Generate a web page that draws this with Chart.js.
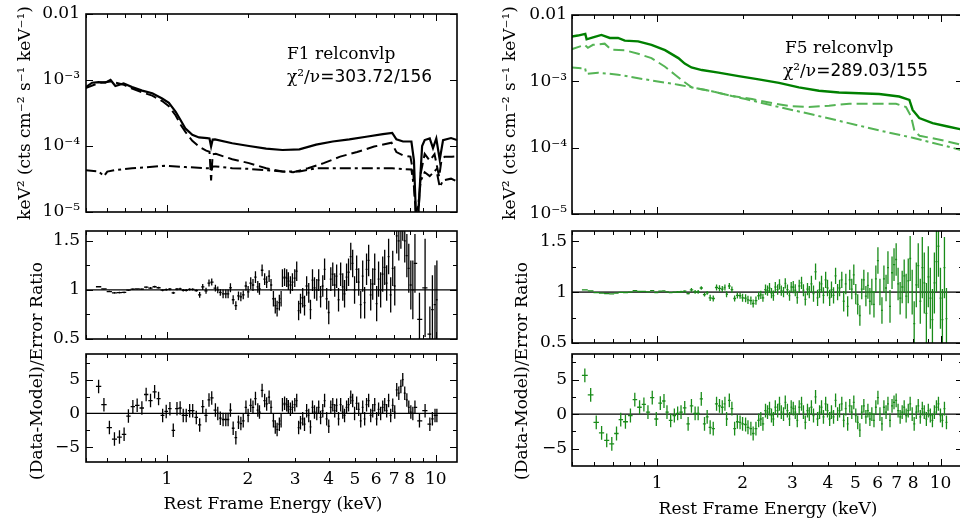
<!DOCTYPE html>
<html lang="en">
<head>
<meta charset="UTF-8">
<title>F1 / F5 relconvlp spectra</title>
<script src="https://cdn.jsdelivr.net/npm/chart.js"></script>
<style>
  body { margin: 0; background: #fff; }
  #fig { position: relative; width: 960px; height: 522px; overflow: hidden; background: #fff;
         font-family: "DejaVu Serif", serif; color: #000; }
  .panel { position: absolute; }
  .txt { position: absolute; white-space: nowrap; font-size: 17px; line-height: 1; }
  .rot { transform: translate(-50%, -50%) rotate(-90deg); }
  .ctr { transform: translate(-50%, -50%); }
  .lft { transform: translate(0, -50%); }
  .sans { font-family: "DejaVu Sans", sans-serif; }
</style>
</head>
<body>
<div id="fig">
  <div class="panel" style="left:0px;top:346px"><canvas id="f1Resid" width="470" height="176"></canvas></div>
  <div class="panel" style="left:0px;top:0px"><canvas id="f1Model" width="470" height="222"></canvas></div>
  <div class="panel" style="left:0px;top:222px"><canvas id="f1Ratio" width="470" height="134"></canvas></div>
  <div class="panel" style="left:480px;top:346px"><canvas id="f5Resid" width="495" height="176"></canvas></div>
  <div class="panel" style="left:480px;top:0px"><canvas id="f5Model" width="495" height="224"></canvas></div>
  <div class="panel" style="left:480px;top:224px"><canvas id="f5Ratio" width="495" height="132"></canvas></div>

  <div class="txt rot" style="left:24px;top:113px">keV² (cts cm⁻² s⁻¹ keV⁻¹)</div>
  <div class="txt rot" style="left:36px;top:371px">(Data-Model)/Error Ratio</div>
  <div class="txt ctr" style="left:273px;top:503px">Rest Frame Energy (keV)</div>
  <div class="txt lft" style="left:287px;top:53px">F1 relconvlp</div>
  <div class="txt lft" style="left:287px;top:76px">χ²/ν<span class="sans">=303.72/156</span></div>

  <div class="txt rot" style="left:509px;top:113px">keV² (cts cm⁻² s⁻¹ keV⁻¹)</div>
  <div class="txt rot" style="left:521px;top:371px">(Data-Model)/Error Ratio</div>
  <div class="txt ctr" style="left:768px;top:508px">Rest Frame Energy (keV)</div>
  <div class="txt lft" style="left:785px;top:47px">F5 relconvlp</div>
  <div class="txt lft" style="left:783px;top:70px">χ²/ν<span class="sans">=289.03/155</span></div>
</div>

<script>
// ---- axis ticks ----
const xTickVals = [1, 2, 3, 4, 5, 6, 7, 8, 10];
const xTickLabels = ['1', '2', '3', '4', '5', '6', '7', '8', '10'];
const xMinorVals = [0.5, 0.6, 0.7, 0.8, 0.9, 2, 3, 4, 5, 6, 7, 8, 9];
const xMajorVals = [1, 10];
const modelTicks = [1e-5, 1e-4, 1e-3, 0.01];
const modelTickLabels = ['10⁻⁵', '10⁻⁴', '10⁻³', '0.01'];
const ratioTicks = [0.5, 1, 1.5];
const ratioTickLabels = ['0.5', '1', '1.5'];
const residTicks = [-5, 0, 5];
const residTickLabels = ['\u22125', '0', '5'];

// ---- F1 model components ----
const f1TotalE = [0.497,0.527,0.557,0.59,0.617,0.643,0.69,0.742,0.809,0.882,0.96,1.017,1.078,1.125,1.17,1.243,1.316,1.41,1.44,1.46,1.48,1.51,1.75,2.02,2.34,2.69,3.11,3.59,4.14,4.77,5.51,6.36,6.89,7.14,7.56,8.12,8.3,8.45,8.6,8.75,8.9,9.1,9.5,9.77,10.05,10.35,10.65,11.4,12.0];
const f1Total = [7.7e-4,9.1e-4,9.3e-4,9.1e-4,1.0e-3,8.1e-4,8.9e-4,7.8e-4,6.9e-4,6.3e-4,5.25e-4,4.5e-4,3.3e-4,2.45e-4,1.86e-4,1.48e-4,1.35e-4,1.32e-4,1.3e-4,9.8e-5,1.25e-4,1.26e-4,1.1e-4,1.0e-4,9.1e-5,8.7e-5,8.9e-5,1.05e-4,1.17e-4,1.26e-4,1.38e-4,1.51e-4,1.58e-4,1.26e-4,1.17e-4,1.17e-4,6e-5,8e-6,8e-6,3e-5,1.0e-4,1.23e-4,1.3e-4,9.3e-5,1.3e-4,6.2e-5,1.23e-4,1.32e-4,1.23e-4];
const f1ReflE = [0.497,0.557,0.617,0.69,0.742,0.809,0.882,0.96,1.017,1.078,1.125,1.17,1.243,1.316,1.40,1.44,1.46,1.48,1.52,1.75,2.02,2.34,2.69,2.95,3.35,3.83,4.41,5.1,5.9,6.85,7.14,7.56,8.05,8.25,8.45,8.6,8.8,9.1,9.5,9.9,10.3,10.5,10.8,11.5,12.0];
const f1Refl = [7.5e-4,9.0e-4,9.5e-4,8.5e-4,7.4e-4,6.5e-4,5.8e-4,4.8e-4,4.0e-4,2.9e-4,2.1e-4,1.65e-4,1.2e-4,9.8e-5,8.5e-5,8.2e-5,3.0e-5,7.5e-5,7.6e-5,6.3e-5,5.5e-5,4.6e-5,4.1e-5,4.0e-5,4.6e-5,5.5e-5,6.9e-5,8.1e-5,9.8e-5,1.12e-4,8.1e-5,7.2e-5,6.9e-5,4.0e-5,8e-6,8e-6,3.9e-5,7.6e-5,6.0e-5,7.5e-5,3.4e-5,6.0e-5,6.9e-5,6.9e-5,7.0e-5];
const f1PowE = [0.497,0.557,0.583,0.6,0.64,0.742,0.98,1.17,1.40,1.44,1.46,1.48,1.52,1.75,2.02,2.34,2.69,3.11,3.59,4.14,5.51,6.89,8.12,8.3,8.45,8.6,8.8,9.1,9.5,10.05,10.35,10.65,11.4,12.0];
const f1Pow = [4.3e-5,4.1e-5,3.5e-5,4.1e-5,4.3e-5,4.6e-5,5.0e-5,4.8e-5,4.6e-5,4.6e-5,4.2e-5,4.9e-5,4.9e-5,4.6e-5,4.5e-5,4.3e-5,4.1e-5,4.1e-5,4.6e-5,4.6e-5,4.6e-5,4.6e-5,4.4e-5,2.4e-5,1.0e-5,1.2e-5,3.0e-5,4.0e-5,3.5e-5,4.4e-5,2.4e-5,3.0e-5,3.2e-5,2.9e-5];

// ---- F1 data: energy, ratio, ratio error, (data-model)/error ----
const f1E = [0.557,0.583,0.611,0.638,0.666,0.693,0.719,0.747,0.775,0.807,0.837,0.869,0.900,0.931,0.964,0.994,1.026,1.056,1.09,1.12,1.15,1.18,1.215,1.247,1.286,1.324,1.359,1.398,1.434,1.468,1.515,1.546,1.58,1.618,1.656,1.689,1.723,1.764,1.805,1.846,1.884,1.923,1.968,2.005,2.05,2.09,2.135,2.178,2.21,2.26,2.31,2.35,2.40,2.44,2.49,2.53,2.57,2.62,2.66,2.69,2.74,2.79,2.83,2.88,2.93,2.99,3.04,3.09,3.14,3.2,3.25,3.31,3.37,3.42,3.48,3.54,3.61,3.67,3.73,3.80,3.86,3.93,4.0,4.07,4.14,4.21,4.28,4.35,4.43,4.51,4.58,4.66,4.74,4.83,4.91,4.99,5.08,5.17,5.26,5.35,5.44,5.53,5.63,5.73,5.83,5.93,6.03,6.13,6.24,6.35,6.46,6.57,6.68,6.8,6.92,7.04,7.16,7.29,7.42,7.54,7.67,7.81,7.94,8.08,8.22,8.37,8.70,9.13,9.51,9.72,9.94,10.1];
const f1Ratio = [1.032,1.010,0.983,0.970,0.972,0.975,0.997,1.008,1.010,1.008,1.028,1.019,1.032,1.022,0.997,1.003,1.008,0.970,1.008,1.010,0.996,0.996,1.005,1.005,0.993,0.949,1.03,0.991,1.07,1.08,1.018,1.0,0.975,0.96,0.96,0.96,1.022,0.90,0.84,0.94,0.93,0.95,1.04,0.98,1.07,1.05,1.13,1.03,1.01,1.20,1.11,1.08,1.14,1.05,0.91,0.84,0.81,0.87,0.91,1.12,1.13,1.12,1.09,1.05,1.08,1.12,1.19,0.79,0.86,0.92,0.84,1.04,0.97,0.80,1.10,1.02,1.0,1.10,0.93,1.04,1.21,0.91,0.77,1.11,1.16,1.05,1.14,0.90,1.16,1.03,0.96,1.13,1.18,1.34,1.27,1.0,1.21,1.08,0.85,1.14,0.87,1.21,1.30,0.95,1.06,1.21,0.86,1.11,1.0,1.16,1.23,1.07,1.34,0.95,1.22,1.04,1.55,1.5,1.62,1.7,1.5,1.35,1.22,1.05,1.0,1.27,0.70,1.02,0.55,0.8,0.85,0.9];
const f1RatioErr = [0.008,0.008,0.008,0.008,0.008,0.008,0.008,0.008,0.008,0.01,0.01,0.01,0.01,0.01,0.01,0.012,0.012,0.012,0.012,0.012,0.012,0.012,0.012,0.012,0.012,0.03,0.03,0.03,0.035,0.035,0.035,0.035,0.035,0.045,0.045,0.045,0.045,0.045,0.045,0.045,0.045,0.045,0.045,0.06,0.06,0.06,0.06,0.06,0.06,0.06,0.06,0.06,0.06,0.06,0.08,0.08,0.08,0.08,0.08,0.09,0.09,0.09,0.09,0.09,0.09,0.09,0.1,0.1,0.1,0.1,0.1,0.1,0.1,0.1,0.11,0.11,0.11,0.11,0.11,0.11,0.11,0.11,0.12,0.12,0.12,0.12,0.12,0.12,0.12,0.14,0.14,0.14,0.14,0.14,0.14,0.14,0.14,0.14,0.14,0.16,0.16,0.16,0.16,0.16,0.16,0.16,0.18,0.18,0.18,0.18,0.18,0.18,0.18,0.18,0.18,0.2,0.18,0.2,0.2,0.2,0.22,0.22,0.25,0.25,0.3,0.3,0.27,0.5,0.28,0.35,0.4,0.4];
const f1Resid = [4.0,1.3,-2.1,-3.8,-3.5,-3.1,-0.4,1.0,1.2,0.8,2.8,1.9,3.2,2.2,-0.3,0.3,0.7,-2.5,0.7,0.8,-0.3,-0.3,0.4,0.4,-0.6,-1.7,1.0,-0.3,2.0,2.3,0.5,0,-0.7,-0.9,-0.9,-0.9,0.5,-2.2,-3.6,-1.3,-1.5,-1.1,0.9,-0.3,1.2,0.9,2.2,0.5,0.2,3.4,1.9,1.4,2.4,0.9,-1.1,-2.0,-2.4,-1.6,-1.1,1.3,1.5,1.3,1.0,0.6,0.9,1.3,1.9,-2.1,-1.4,-0.8,-1.6,0.4,-0.3,-2.0,0.9,0.2,0,0.9,-0.6,0.4,1.9,-0.8,-1.9,0.9,1.3,0.4,1.2,-0.8,1.3,0.2,-0.3,0.9,1.3,2.4,1.9,0,1.5,0.6,-1.1,0.9,-0.8,1.3,1.9,-0.3,0.4,1.3,-0.8,0.6,0,0.9,1.3,0.4,1.9,-0.3,1.2,0.2,3.5,3.0,4.0,5.0,3.0,2.0,0.9,0.2,0,0.9,-1.1,0.4,-1.6,-0.8,-0.3,-0.3];

// ---- F5 model components ----
const f5TotalE = [0.494,0.524,0.557,0.563,0.593,0.635,0.68,0.727,0.768,0.856,0.954,1.065,1.187,1.25,1.32,1.436,1.645,1.937,2.28,2.69,3.16,3.72,4.38,5.16,6.07,7.14,7.76,7.97,8.41,9.37,10.5,11.7,12.0];
const f5Total = [4.7e-3,4.9e-3,5.2e-3,4.3e-3,4.6e-3,5.0e-3,4.5e-3,4.5e-3,4.1e-3,4.0e-3,3.55e-3,2.95e-3,2.24e-3,1.85e-3,1.62e-3,1.48e-3,1.35e-3,1.2e-3,1.07e-3,9.5e-4,8.1e-4,7.2e-4,6.8e-4,6.6e-4,6.45e-4,5.9e-4,5.25e-4,3.7e-4,2.8e-4,2.35e-4,2.1e-4,1.9e-4,1.86e-4];
const f5ReflE = [0.494,0.554,0.569,0.593,0.652,0.688,0.768,0.856,0.954,1.065,1.155,1.236,1.323,1.557,1.833,2.16,2.54,2.99,3.43,4.04,4.76,5.74,6.96,7.55,7.87,8.09,8.43,9.94,11.7,12.0];
const f5Refl = [3.0e-3,3.55e-3,3.2e-3,3.55e-3,3.7e-3,3.0e-3,2.95e-3,2.6e-3,2.24e-3,1.66e-3,1.26e-3,1.0e-3,8.1e-4,7.1e-4,6.0e-4,5.4e-4,4.7e-4,4.2e-4,4.1e-4,4.3e-4,4.6e-4,4.6e-4,4.6e-4,4.1e-4,2.95e-4,1.78e-4,1.51e-4,1.32e-4,1.12e-4,1.1e-4];
const f5PowE = [0.494,0.539,0.556,0.562,0.618,0.727,0.904,1.187,1.557,2.05,2.69,3.53,4.63,6.07,7.97,10.5,11.7,12.0];
const f5Pow = [1.62e-3,1.58e-3,1.58e-3,1.29e-3,1.35e-3,1.26e-3,1.07e-3,8.9e-4,7.1e-4,5.4e-4,4.1e-4,3.16e-4,2.4e-4,1.82e-4,1.41e-4,1.05e-4,9.3e-5,9.0e-5];

// ---- F5 data ----
const f5E = [0.555,0.582,0.609,0.636,0.663,0.691,0.718,0.743,0.772,0.804,0.833,0.866,0.897,0.927,0.96,0.992,1.025,1.056,1.082,1.115,1.149,1.18,1.213,1.25,1.285,1.32,1.36,1.394,1.43,1.468,1.5,1.537,1.576,1.619,1.658,1.696,1.733,1.756,1.796,1.834,1.875,1.917,1.96,2.0,2.05,2.09,2.14,2.18,2.23,2.28,2.32,2.36,2.41,2.45,2.49,2.53,2.57,2.61,2.66,2.70,2.74,2.79,2.83,2.88,2.93,2.97,3.02,3.07,3.12,3.17,3.23,3.28,3.33,3.39,3.44,3.50,3.56,3.62,3.68,3.74,3.80,3.86,3.93,3.99,4.06,4.12,4.19,4.26,4.33,4.40,4.48,4.55,4.63,4.70,4.78,4.86,4.94,5.02,5.10,5.19,5.27,5.36,5.45,5.54,5.63,5.72,5.82,5.91,6.01,6.11,6.21,6.31,6.42,6.52,6.63,6.74,6.85,6.97,7.08,7.20,7.32,7.44,7.56,7.69,7.81,7.94,8.07,8.21,8.34,8.48,8.62,8.76,8.91,9.05,9.20,9.36,9.51,9.67,9.83,9.99,10.15,10.32,10.49];
const f5Ratio = [1.022,1.011,0.995,0.989,0.985,0.983,0.989,0.997,0.996,0.999,1.013,1.006,1.008,1.002,1.014,0.996,1.010,1.011,1.002,0.995,0.999,1.001,1.003,1.009,0.986,1.022,1.002,1.002,1.04,0.975,0.993,0.943,0.937,1.045,1.036,1.03,1.045,0.979,1.06,1.024,0.937,0.967,0.964,0.944,0.94,0.924,0.916,0.888,0.916,0.964,0.972,0.944,1.025,1.015,1.04,0.99,0.965,1.05,1.025,1.075,1.015,1.0,1.085,1.025,0.965,1.05,1.048,1.018,0.946,1.06,1.09,1.018,0.928,1.03,1.0,1.08,0.984,1.2,0.944,1.024,1.08,0.968,1.12,1.04,0.944,1.024,0.968,1.16,1.0,1.04,1.12,0.91,1.08,0.86,1.12,1.03,1.17,0.98,0.88,0.77,1.03,1.12,0.96,1.065,0.91,1.0,0.88,1.13,1.31,1.0,0.82,1.13,1.04,1.24,0.86,1.19,1.27,1.32,1.08,0.94,1.05,1.16,0.96,1.11,1.33,1.0,0.69,1.07,1.26,0.91,1.24,1.09,0.79,1.15,0.94,0.73,1.09,1.3,1.45,0.94,0.73,1.24,0.74];
const f5RatioErr = [0.004,0.004,0.004,0.004,0.004,0.004,0.004,0.004,0.004,0.006,0.006,0.006,0.006,0.006,0.006,0.006,0.006,0.006,0.006,0.006,0.006,0.01,0.01,0.01,0.01,0.018,0.018,0.018,0.018,0.018,0.018,0.03,0.03,0.03,0.03,0.03,0.03,0.03,0.03,0.03,0.03,0.03,0.03,0.04,0.04,0.04,0.04,0.04,0.04,0.04,0.04,0.04,0.05,0.05,0.05,0.05,0.05,0.05,0.05,0.05,0.05,0.05,0.05,0.05,0.05,0.05,0.06,0.06,0.06,0.06,0.06,0.06,0.06,0.06,0.06,0.08,0.08,0.08,0.08,0.08,0.08,0.08,0.08,0.08,0.08,0.08,0.08,0.08,0.08,0.08,0.08,0.1,0.1,0.1,0.1,0.1,0.1,0.1,0.1,0.1,0.1,0.1,0.1,0.13,0.13,0.13,0.13,0.13,0.13,0.13,0.13,0.13,0.13,0.16,0.16,0.16,0.16,0.16,0.16,0.16,0.16,0.16,0.22,0.22,0.22,0.22,0.22,0.22,0.22,0.22,0.3,0.3,0.3,0.3,0.3,0.3,0.3,0.3,0.3,0.3,0.3,0.3,0.3];
const f5Resid = [5.6,2.8,-1.2,-2.7,-3.8,-4.3,-2.8,-0.8,-1.1,-0.2,2.1,1.0,1.4,0.3,2.4,-0.7,1.6,1.9,0.3,-0.9,-0.2,0.1,0.3,0.9,-1.4,1.2,0.1,0.1,2.2,-1.4,-0.4,-1.9,-2.1,1.5,1.2,1.0,1.5,-0.7,2.0,0.8,-2.1,-1.1,-1.2,-1.4,-1.5,-1.9,-2.1,-2.8,-2.1,-0.9,-0.7,-1.4,0.5,0.3,0.8,-0.2,-0.7,1.0,0.5,1.5,0.3,0,1.7,0.5,-0.7,1.0,0.8,0.3,-0.9,1.0,1.5,0.3,-1.2,0.5,0,1.0,-0.2,2.5,-0.7,0.3,1.0,-0.4,1.5,0.5,-0.7,0.3,-0.4,2.0,0,0.5,1.5,-0.9,0.8,-1.4,1.2,0.3,1.7,-0.2,-1.2,-2.3,0.3,1.2,-0.4,0.5,-0.7,0,-0.9,1.0,2.4,0,-1.4,1.0,0.3,1.5,-0.9,1.2,1.7,2.0,0.5,-0.4,0.3,1.0,-0.2,0.5,1.5,0,-1.4,0.3,1.2,-0.4,0.8,0.3,-0.7,0.5,-0.2,-0.9,0.3,1.0,1.5,-0.2,-0.9,0.8,-1.2];

// ---------------------------------------------------------------
const black = '#000000';
const green = 'rgb(0,128,0)';
const lightGreen = 'rgb(85,180,85)';
const barGreen = 'rgb(25,140,25)';
const tickFont = { family: 'DejaVu Serif', size: 17 };

function pts(e, v) { return e.map((x, i) => ({ x: x, y: v[i] })); }

// crosses: vertical error bar plus horizontal bin width, broken with nulls
function crosses(e, val, err) {
  const out = [];
  e.forEach((x, i) => {
    const lo = i > 0 ? Math.sqrt(e[i - 1] * x) : x * x / Math.sqrt(x * e[i + 1]);
    const hi = i < e.length - 1 ? Math.sqrt(x * e[i + 1]) : x * x / Math.sqrt(e[i - 1] * x);
    const dy = Array.isArray(err) ? err[i] : err;
    out.push({ x: x, y: val[i] - dy }, { x: x, y: val[i] + dy }, { x: x, y: null });
    out.push({ x: lo, y: val[i] }, { x: hi, y: val[i] }, { x: x, y: null });
  });
  return out;
}

function curve(data, color, dash, width) {
  return { data: data, showLine: true, borderColor: color, borderWidth: width || 2,
           borderDash: dash || [], pointRadius: 0, spanGaps: false };
}

// inward tick marks on all four sides + frame
const frameTicks = {
  id: 'frameTicks',
  afterDatasetsDraw(chart, args, o) {
    const { ctx, chartArea: a, scales } = chart;
    ctx.save();
    ctx.strokeStyle = black;
    ctx.lineWidth = 1;
    ctx.beginPath();
    const xt = (v, len) => {
      const px = Math.round(scales.x.getPixelForValue(v)) + 0.5;
      ctx.moveTo(px, a.top); ctx.lineTo(px, a.top + len);
      ctx.moveTo(px, a.bottom); ctx.lineTo(px, a.bottom - len);
    };
    const yt = (v, len) => {
      const py = Math.round(scales.y.getPixelForValue(v)) + 0.5;
      ctx.moveTo(a.left, py); ctx.lineTo(a.left + len, py);
      ctx.moveTo(a.right, py); ctx.lineTo(a.right - len, py);
    };
    xMajorVals.forEach(v => xt(v, 7));
    xMinorVals.forEach(v => xt(v, 4));
    o.yMajor.forEach(v => yt(v, 7));
    o.yMinor.forEach(v => yt(v, 4));
    ctx.stroke();
    ctx.lineWidth = 1.6;
    ctx.strokeRect(a.left, a.top, a.right - a.left, a.bottom - a.top);
    ctx.restore();
  }
};

function panel(id, o) {
  return new Chart(document.getElementById(id), {
    type: 'scatter',
    data: { datasets: o.datasets },
    options: {
      responsive: false,
      maintainAspectRatio: false,
      animation: false,
      events: [],
      layout: { padding: o.pad },
      plugins: {
        legend: { display: false },
        tooltip: { enabled: false },
        frameTicks: { yMajor: o.yMajor, yMinor: o.yMinor }
      },
      scales: {
        x: {
          type: 'logarithmic', min: 0.5, max: 12,
          display: !!o.xHeight,
          grid: { display: false, drawTicks: false },
          border: { display: false },
          afterBuildTicks: s => { s.ticks = xTickVals.map(v => ({ value: v })); },
          afterFit: s => {
            if (o.xHeight) s.height = o.xHeight;
            s.paddingLeft = 0; s.paddingRight = 0;
          },
          ticks: { font: tickFont, color: black, padding: 7, maxRotation: 0, autoSkip: false,
                   callback: (v, i) => xTickLabels[i] }
        },
        y: {
          type: o.yType, min: o.yMin, max: o.yMax,
          grid: { display: false, drawTicks: false },
          border: { display: false },
          afterBuildTicks: s => { s.ticks = o.yTicks.map(v => ({ value: v })); },
          afterFit: s => { s.width = o.yWidth; s.paddingTop = 0; s.paddingBottom = 0; },
          ticks: { font: tickFont, color: black, padding: o.yPad, autoSkip: false,
                   callback: (v, i) => o.yLabels[i] }
        }
      }
    },
    plugins: [frameTicks]
  });
}

const dashed = [11, 5];
const dashDot = [11, 4, 3, 4];
const ratioMinor = [0.75, 1.25];
const residMinor = [-2.5, 2.5, 7.5];
const modelMinor = [];

// ---------------- F1 (left column) ----------------
panel('f1Model', {
  pad: { left: 0, right: 13, top: 14, bottom: 10 }, yWidth: 86, yPad: 6,
  yType: 'logarithmic', yMin: 1e-5, yMax: 0.01, yTicks: modelTicks, yLabels: modelTickLabels,
  yMajor: modelTicks, yMinor: modelMinor,
  datasets: [
    curve(pts(f1PowE, f1Pow), black, dashDot),
    curve(pts(f1ReflE, f1Refl), black, dashed),
    curve(pts(f1TotalE, f1Total), black, [], 2.2)
  ]
});
panel('f1Ratio', {
  pad: { left: 0, right: 13, top: 9, bottom: 17 }, yWidth: 86, yPad: 6,
  yType: 'linear', yMin: 0.5, yMax: 1.6, yTicks: ratioTicks, yLabels: ratioTickLabels,
  yMajor: ratioTicks, yMinor: ratioMinor,
  datasets: [
    curve(crosses(f1E, f1Ratio, f1RatioErr), black, [], 1.3),
    curve([{ x: 0.5, y: 1 }, { x: 12, y: 1 }], black, [], 1.3)
  ]
});
panel('f1Resid', {
  pad: { left: 0, right: 13, top: 8, bottom: 0 }, yWidth: 86, yPad: 6, xHeight: 60,
  yType: 'linear', yMin: -7.2, yMax: 8.8, yTicks: residTicks, yLabels: residTickLabels,
  yMajor: residTicks, yMinor: residMinor,
  datasets: [
    curve(crosses(f1E, f1Resid, 1), black, [], 1.3),
    curve([{ x: 0.5, y: 0 }, { x: 12, y: 0 }], black, [], 1.3)
  ]
});

// ---------------- F5 (right column) ----------------
panel('f5Model', {
  pad: { left: 0, right: 12, top: 15, bottom: 10 }, yWidth: 92, yPad: 5,
  yType: 'logarithmic', yMin: 1e-5, yMax: 0.01, yTicks: modelTicks, yLabels: modelTickLabels,
  yMajor: modelTicks, yMinor: modelMinor,
  datasets: [
    curve(pts(f5PowE, f5Pow), lightGreen, dashDot),
    curve(pts(f5ReflE, f5Refl), lightGreen, dashed),
    curve(pts(f5TotalE, f5Total), green, [], 2.4)
  ]
});
panel('f5Ratio', {
  pad: { left: 0, right: 12, top: 7, bottom: 13 }, yWidth: 92, yPad: 5,
  yType: 'linear', yMin: 0.5, yMax: 1.6, yTicks: ratioTicks, yLabels: ratioTickLabels,
  yMajor: ratioTicks, yMinor: ratioMinor,
  datasets: [
    curve(crosses(f5E, f5Ratio, f5RatioErr), barGreen, [], 1.3),
    curve([{ x: 0.5, y: 1 }, { x: 12, y: 1 }], '#444', [], 1.6)
  ]
});
panel('f5Resid', {
  pad: { left: 0, right: 12, top: 8, bottom: 0 }, yWidth: 92, yPad: 5, xHeight: 56,
  yType: 'linear', yMin: -7.5, yMax: 8.7, yTicks: residTicks, yLabels: residTickLabels,
  yMajor: residTicks, yMinor: residMinor,
  datasets: [
    curve(crosses(f5E, f5Resid, 1), barGreen, [], 1.3),
    curve([{ x: 0.5, y: 0 }, { x: 12, y: 0 }], black, [], 1.3)
  ]
});
</script>
</body>
</html>
